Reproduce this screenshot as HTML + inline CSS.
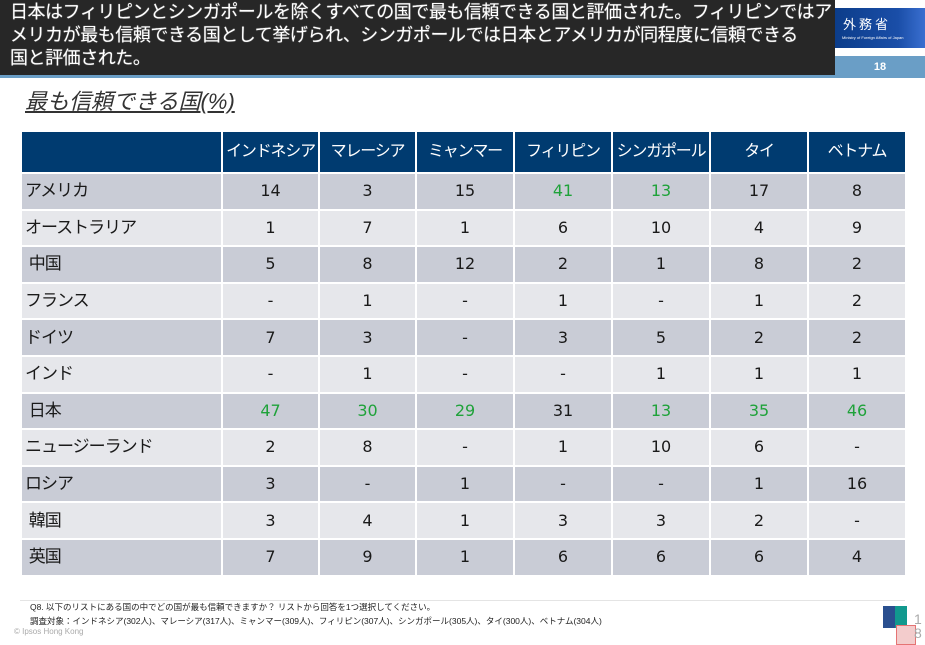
<!DOCTYPE html>
<html><head><meta charset="utf-8"><style>
body{margin:0;width:925px;height:645px;background:#fff;position:relative;overflow:hidden;font-family:"Liberation Sans","Noto Sans CJK JP",sans-serif}
.hdr{position:absolute;left:0;top:0;width:835px;height:75px;background:#272727;color:#fff;font-size:18px;line-height:23px;padding:1px 0 0 10px;box-sizing:border-box;letter-spacing:-0.45px;text-shadow:0 0 1px #aaa;white-space:nowrap}
.bar{position:absolute;left:0;top:75px;width:925px;height:3px;background:#6a9ec6}
.bar2{position:absolute;left:835px;top:56px;width:90px;height:22px;background:#6a9ec6;color:#fff;font-weight:bold;font-size:11px;text-align:center;line-height:22px}
.logo{position:absolute;left:835px;top:8px;width:90px;height:40px;background:linear-gradient(90deg,#0c3d8a,#1a4ea8 70%,#3a6fd0);color:#fff}
.sub{position:absolute;left:25px;top:84px;font-size:22px;font-style:italic;text-decoration:underline;color:#333;letter-spacing:0}
table{position:absolute;left:20px;top:130px;border-collapse:collapse;table-layout:fixed}
td,th{border:2px solid #fff;padding:0;text-align:center;font-size:17px;color:#1a1a1a;vertical-align:middle;line-height:20px}
th{background:#003b70;color:#fff;font-weight:normal;height:40px;font-size:16px;letter-spacing:-1.2px}
td{height:34.6px;font-family:"DejaVu Sans",sans-serif;font-size:16px}
td:first-child{text-align:left;padding-left:3px;font-size:17px;font-family:"Liberation Sans","Noto Sans CJK JP",sans-serif;letter-spacing:-1px}
tr:nth-child(even) td{background:#c9ccd6}
tr:nth-child(odd) td{background:#e6e7eb}
.g{color:#1fa23a}
.foot{position:absolute;left:30px;font-size:8.5px;color:#222}
</style></head><body>
<div class="hdr">日本はフィリピンとシンガポールを除くすべての国で最も信頼できる国と評価された。フィリピンではア<br>メリカが最も信頼できる国として挙げられ、シンガポールでは日本とアメリカが同程度に信頼できる<br>国と評価された。</div>
<div class="bar"></div>
<div class="logo"><div style="position:absolute;left:8px;top:6px;font-size:13px;letter-spacing:3px">外務省</div><div style="position:absolute;left:7px;top:27px;font-size:4px;white-space:nowrap">Ministry of Foreign Affairs of Japan</div></div>
<div class="bar2">18</div>
<div class="sub">最も信頼できる国(%)</div>
<table>
<colgroup><col style="width:201px"><col style="width:97px"><col style="width:97px"><col style="width:98px"><col style="width:98px"><col style="width:98px"><col style="width:98px"><col style="width:98px"></colgroup>
<tr><th></th><th>インドネシア</th><th>マレーシア</th><th>ミャンマー</th><th>フィリピン</th><th>シンガポール</th><th>タイ</th><th>ベトナム</th></tr>
<tr><td>アメリカ</td><td>14</td><td>3</td><td>15</td><td class="g">41</td><td class="g">13</td><td>17</td><td>8</td></tr>
<tr><td>オーストラリア</td><td>1</td><td>7</td><td>1</td><td>6</td><td>10</td><td>4</td><td>9</td></tr>
<tr><td>&nbsp;中国</td><td>5</td><td>8</td><td>12</td><td>2</td><td>1</td><td>8</td><td>2</td></tr>
<tr><td>フランス</td><td>-</td><td>1</td><td>-</td><td>1</td><td>-</td><td>1</td><td>2</td></tr>
<tr><td>ドイツ</td><td>7</td><td>3</td><td>-</td><td>3</td><td>5</td><td>2</td><td>2</td></tr>
<tr><td>インド</td><td>-</td><td>1</td><td>-</td><td>-</td><td>1</td><td>1</td><td>1</td></tr>
<tr><td>&nbsp;日本</td><td class="g">47</td><td class="g">30</td><td class="g">29</td><td>31</td><td class="g">13</td><td class="g">35</td><td class="g">46</td></tr>
<tr><td>ニュージーランド</td><td>2</td><td>8</td><td>-</td><td>1</td><td>10</td><td>6</td><td>-</td></tr>
<tr><td>ロシア</td><td>3</td><td>-</td><td>1</td><td>-</td><td>-</td><td>1</td><td>16</td></tr>
<tr><td>&nbsp;韓国</td><td>3</td><td>4</td><td>1</td><td>3</td><td>3</td><td>2</td><td>-</td></tr>
<tr><td>&nbsp;英国</td><td>7</td><td>9</td><td>1</td><td>6</td><td>6</td><td>6</td><td>4</td></tr>
</table>
<div style="position:absolute;left:20px;top:600px;width:885px;height:1px;background:#e4e4e4"></div>
<div class="foot" style="top:601px">Q8. 以下のリストにある国の中でどの国が最も信頼できますか？ リストから回答を1つ選択してください。</div>
<div class="foot" style="top:615px">調査対象：インドネシア(302人)、マレーシア(317人)、ミャンマー(309人)、フィリピン(307人)、シンガポール(305人)、タイ(300人)、ベトナム(304人)</div>
<div style="position:absolute;left:14px;top:627px;font-size:8px;color:#aaa">© Ipsos Hong Kong</div>
<div style="position:absolute;left:883px;top:606px;width:24px;height:22px;background:linear-gradient(90deg,#2a4f8f 50%,#11998e 50%)"></div>
<div style="position:absolute;left:896px;top:625px;width:18px;height:18px;background:#f3cccc;border:1px solid #e57373"></div>
<div style="position:absolute;left:914px;top:612px;font-size:14px;color:#aaa;line-height:14px">1<br>8</div>
</body></html>
